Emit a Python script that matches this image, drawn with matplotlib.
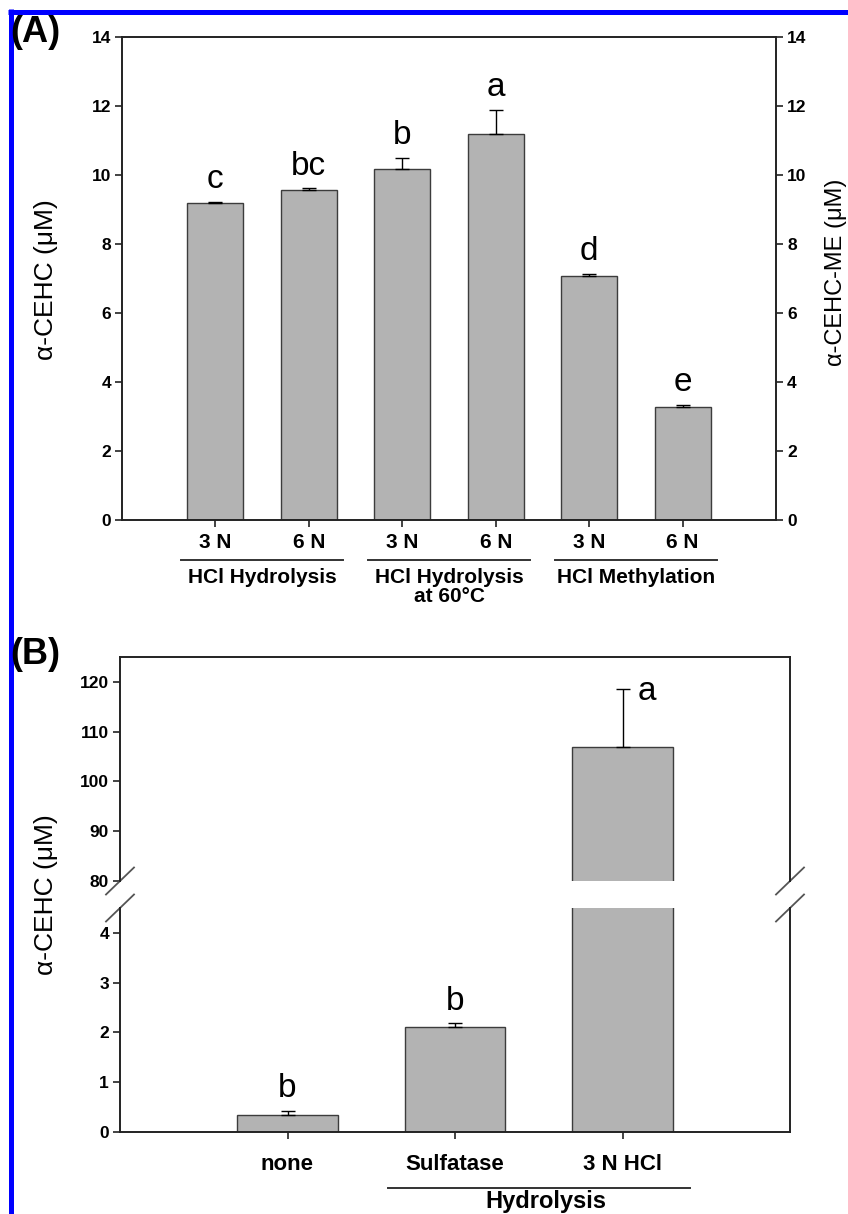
import numpy as np
import matplotlib
matplotlib.use("Agg")
import matplotlib.pyplot as plt
from matplotlib.lines import Line2D

plt.rcParams['font.family'] = ['Liberation Sans', 'DejaVu Sans']

# ---- data, panel A
a_ticklabels = ["3 N", "6 N", "3 N", "6 N", "3 N", "6 N"]
a_values = [9.18, 9.57, 10.18, 11.20, 7.08, 3.27]
a_errors = [0.05, 0.04, 0.32, 0.68, 0.06, 0.06]
a_letters = ["c", "bc", "b", "a", "d", "e"]
a_groups = ["HCl Hydrolysis", "HCl Hydrolysis\nat 60\u00b0C", "HCl Methylation"]
a_group_members = [(0, 1), (2, 3), (4, 5)]

# ---- data, panel B
b_ticklabels = ["none", "Sulfatase", "3 N HCl"]
b_values = [0.35, 2.10, 107.0]
b_errors = [0.07, 0.08, 11.6]
b_letters = ["b", "b", "a"]
b_group = "Hydrolysis"
b_group_members = (1, 2)

W, H = 848, 1214
fig = plt.figure(figsize=(W / 100, H / 100), dpi=100)

BAR = '#b3b3b3'
EDGE = '#3c3c3c'
SPINE = '#222222'


def fx(px):
    return px / W


def fy(px):
    return 1 - px / H


def style(ax):
    for s in ax.spines.values():
        s.set_color(SPINE)
        s.set_linewidth(1.4)
    ax.tick_params(direction='out', length=5, width=1.2, color=SPINE,
                   labelsize=12.5, pad=3)
    for lab in ax.get_yticklabels():
        lab.set_fontweight('bold')


# ================= Panel A =================
axA = fig.add_axes([fx(122), fy(520), fx(776) - fx(122), (520 - 37) / H])
xa = np.arange(len(a_values))
axA.bar(xa, a_values, width=0.6, color=BAR, edgecolor=EDGE, linewidth=1.0, zorder=2)
axA.errorbar(xa, a_values, yerr=[np.zeros(len(a_errors)), a_errors], fmt='none',
             ecolor='black', elinewidth=1.0, capsize=5, capthick=1.0, zorder=3)
for x, v, e, t in zip(xa, a_values, a_errors, a_letters):
    axA.annotate(t, (x, v + e), xytext=(0, 10), textcoords='offset points',
                 ha='center', va='baseline', fontsize=24)
axA.set_xlim(-1, 6)
axA.set_ylim(0, 14)
axA.set_yticks(np.arange(0, 15, 2))
axA.set_xticks(xa)
axA.set_xticklabels(a_ticklabels)
axA.tick_params(axis='y', right=True, labelright=True)
style(axA)
axA.tick_params(axis='x', labelsize=15, pad=4)
for lab in axA.get_xticklabels():
    lab.set_fontweight('bold')

hA = axA.bbox.height
trA = axA.get_xaxis_transform()
for (i0, i1), g in zip(a_group_members, a_groups):
    axA.plot([i0 - 0.37, i1 + 0.37], [-40 / hA, -40 / hA], transform=trA,
             clip_on=False, color='#333333', lw=1.4)
    axA.text((i0 + i1) / 2, -48 / hA, g, transform=trA, ha='center', va='top',
             fontsize=15, fontweight='bold', linespacing=1.0)

fig.text(fx(46), fy(280), "\u03b1-CEHC (\u03bcM)", rotation=90, ha='center',
         va='center', fontsize=19)
fig.text(fx(825), fy(272), "\u03b1-CEHC-ME (\u03bcM)", rotation=90, ha='left',
         va='center', fontsize=17)
fig.text(fx(10), fy(32), "(A)", ha='left', va='center', fontsize=26, fontweight='bold')

# ================= Panel B (broken axis) =================
b_left, b_right = fx(120), fx(790)
axHi = fig.add_axes([b_left, fy(881), b_right - b_left, (881 - 657) / H])
axLo = fig.add_axes([b_left, fy(1132), b_right - b_left, (1132 - 908) / H])
xb = np.arange(len(b_values))
for ax in (axHi, axLo):
    ax.bar(xb, b_values, width=0.6, color=BAR, edgecolor=EDGE, linewidth=1.0, zorder=2)
    ax.errorbar(xb, b_values, yerr=[np.zeros(len(b_errors)), b_errors], fmt='none',
                ecolor='black', elinewidth=1.0, capsize=5, capthick=1.0, zorder=3)
    ax.set_xlim(-1, 3)
    style(ax)

axHi.set_ylim(80, 125)
axHi.set_yticks(np.arange(80, 121, 10))
axLo.set_ylim(0, 4.5)
axLo.set_yticks(np.arange(0, 5, 1))
for ax in (axHi, axLo):
    for lab in ax.get_yticklabels():
        lab.set_fontweight('bold')
axHi.spines['bottom'].set_visible(False)
axHi.tick_params(axis='x', bottom=False, labelbottom=False)
axLo.spines['top'].set_visible(False)
axLo.set_xticks(xb)
axLo.set_xticklabels(b_ticklabels)
axLo.tick_params(axis='x', labelsize=16, pad=11)
for lab in axLo.get_xticklabels():
    lab.set_fontweight('bold')

# significance letters
for x, v, e, t in zip(xb, b_values, b_errors, b_letters):
    if v + e < 4.5:
        axLo.annotate(t, (x, v + e), xytext=(0, 10), textcoords='offset points',
                      ha='center', va='baseline', fontsize=24)
    else:
        axHi.annotate(t, (x, v + e), xytext=(11, -8), textcoords='offset points',
                      ha='left', va='baseline', fontsize=24)

# break marks
for ax, y0 in ((axHi, 0), (axLo, 1)):
    dx = 14 / ax.bbox.width
    dy = 13.5 / ax.bbox.height
    for x0 in (0, 1):
        ax.plot([x0 - dx, x0 + dx], [y0 - dy, y0 + dy], transform=ax.transAxes,
                clip_on=False, color='#555555', lw=1.3)

# group line under lower axis
hB = axLo.bbox.height
trB = axLo.get_xaxis_transform()
i0, i1 = b_group_members
axLo.plot([i0 - 0.4, i1 + 0.4], [-56 / hB, -56 / hB], transform=trB,
          clip_on=False, color='#333333', lw=1.4)
axLo.text((i0 + i1) / 2 + 0.04, -76 / hB, b_group, transform=trB, ha='center',
          va='baseline', fontsize=17, fontweight='bold')

fig.text(fx(46), fy(895), "\u03b1-CEHC (\u03bcM)", rotation=90, ha='center',
         va='center', fontsize=19)
fig.text(fx(10), fy(655), "(B)", ha='left', va='center', fontsize=26, fontweight='bold')

# blue frame of the cropped page
fig.add_artist(Line2D([fx(8), 1], [fy(11.5), fy(11.5)], transform=fig.transFigure,
                      color='#0000ff', lw=3.6, solid_capstyle='butt'))
fig.add_artist(Line2D([fx(10.5), fx(10.5)], [fy(9), 0], transform=fig.transFigure,
                      color='#0000ff', lw=3.6, solid_capstyle='butt'))

fig.savefig("out.png", dpi=100)
